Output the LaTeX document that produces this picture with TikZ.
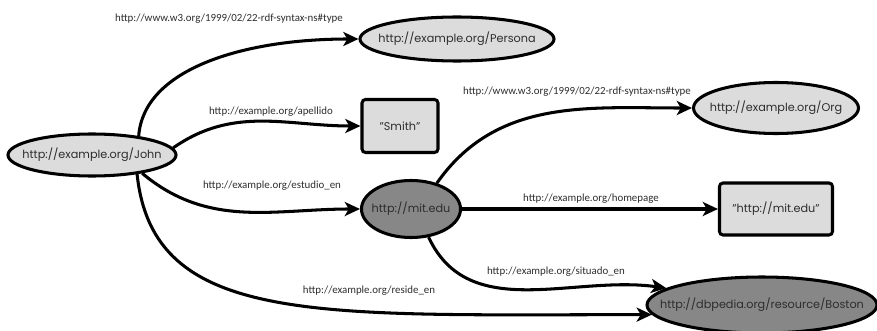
\documentclass[tikz,border=0pt]{standalone}
\usepackage{fontspec}
\setmainfont{Poppins}
\newfontfamily\propfont{Carlito}
\usetikzlibrary{shapes.geometric,arrows.meta}

\definecolor{lightfill}{RGB}{220,220,220}
\definecolor{darkfill}{RGB}{135,135,135}
\definecolor{ink}{RGB}{45,45,45}

% node text is kept out of the node size
\newcommand{\uri}[1]{\makebox[0pt]{#1}}

\tikzset{
    res/.style={ellipse, draw=black, line width=2.6pt, fill=lightfill, inner sep=0pt,
                text=ink, font=\fontsize{9.6}{12}\selectfont},
    dres/.style={res, fill=darkfill},
    lit/.style={rectangle, rounded corners=3pt, draw=black, line width=2.6pt, fill=lightfill,
                inner sep=0pt, text=ink, font=\fontsize{9.6}{12}\selectfont},
    prop/.style={text=ink, inner sep=0pt, font=\propfont\fontsize{9.3}{10}\selectfont},
    rel/.style={line width=2.6pt, -{Stealth[length=13pt, width=12pt, inset=3.5pt]}}
}

\begin{document}
\begin{tikzpicture}[x=0.03cm, y=0.03cm]
    \useasboundingbox (0,0) rectangle (877,330);

    \node[res,  minimum width=5.04cm, minimum height=1.26cm] (john)    at (92, 175)  {\uri{http://example.org/John}};
    \node[res,  minimum width=5.82cm, minimum height=1.32cm] (persona) at (457, 291) {\uri{http://example.org/Persona}};
    \node[lit,  minimum width=2.28cm, minimum height=1.59cm] (smith)   at (400, 204) {\uri{"Smith"}};
    \node[dres, minimum width=2.97cm, minimum height=1.71cm] (mit)     at (411, 121) {\uri{http://mit.edu}};
    \node[res,  minimum width=4.95cm, minimum height=1.53cm] (org)     at (776, 222) {\uri{http://example.org/Org}};
    \node[lit,  minimum width=3.39cm, minimum height=1.56cm] (home)    at (776, 121) {\uri{"http://mit.edu"}};
    \node[dres, minimum width=6.9cm,  minimum height=1.68cm] (boston)  at (762, 25)  {\uri{http://dbpedia.org/resource/Boston}};

    \node[prop] (ptype)    at (229, 311) {http://www.w3.org/1999/02/22-rdf-syntax-ns\#type};
    \node[prop] (papell)   at (271, 218) {http://example.org/apellido};
    \node[prop] (pestud)   at (272, 144) {http://example.org/estudio\_en};
    \node[prop] (preside)  at (369, 39)  {http://example.org/reside\_en};
    \node[prop] (ptypeorg) at (577, 238) {http://www.w3.org/1999/02/22-rdf-syntax-ns\#type};
    \node[prop] (phome)    at (591, 131) {http://example.org/homepage};
    \node[prop] (psit)     at (556, 58)  {http://example.org/situado\_en};

    \draw[rel] (john.22)  to[out=86,  in=180, out distance=2cm, in distance=3.5cm]  (persona.west);
    \draw[rel] (john.5)   to[out=35,  in=180]                                      (smith.west);
    \draw[rel] (john.-20) to[out=-40, in=180]                                      (mit.west);
    \draw[rel] (john.-23) to[out=-84, in=180, out distance=4.6cm, in distance=10cm] (boston.185);
    \draw[rel] (mit.45)   to[out=55,  in=180]                                      (org.west);
    \draw[rel] (mit.east) --                                                       (home.west);
    \draw[rel] (mit.-58)  to[out=-65, in=172]                                      (boston.170);
\end{tikzpicture}
\end{document}
